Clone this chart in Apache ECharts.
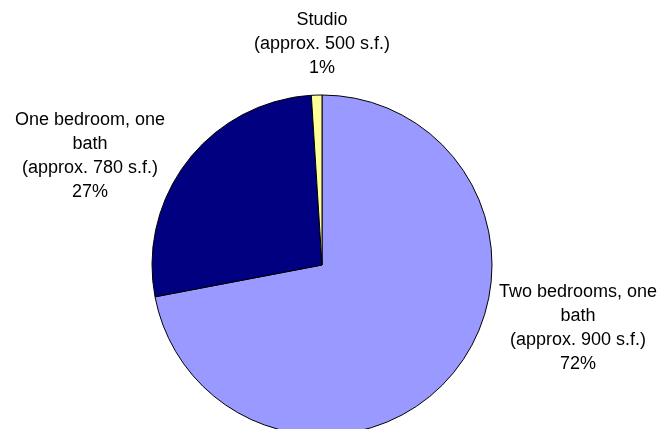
<!DOCTYPE html>
<html>
<head>
<meta charset="utf-8">
<script src="https://cdn.jsdelivr.net/npm/echarts@6/dist/echarts.min.js"></script>
<style>
  html, body { margin: 0; padding: 0; background: #ffffff; }
  #chart { width: 670px; height: 429px; }
</style>
</head>
<body>
<div id="chart"></div>
<script>
// Unit mix by apartment type (share of units, %)
const unitTypes = [
  'Two bedrooms, one\nbath\n(approx. 900 s.f.)',
  'One bedroom, one\nbath\n(approx. 780 s.f.)',
  'Studio\n(approx. 500 s.f.)'
];
const unitShares = [72, 27, 1];
const sliceColors = ['#9999FF', '#000080', '#FFFF99'];

// Pie geometry (pixels)
const pieCenter = [322, 265];
const pieRadius = 170;

// Label block centres, relative to the pie centre
const labelOffsets = [
  [256, 63],   // two bedrooms
  [-232, -109], // one bedroom
  [0, -221]    // studio
];

const chart = echarts.init(document.getElementById('chart'), null, { renderer: 'canvas' });

chart.setOption({
  animation: false,
  backgroundColor: '#ffffff',
  series: [{
    type: 'pie',
    center: pieCenter,
    radius: pieRadius,
    startAngle: 90,
    clockwise: true,
    avoidLabelOverlap: false,
    data: unitTypes.map((name, i) => ({
      name: name,
      value: unitShares[i],
      itemStyle: { color: sliceColors[i] }
    })),
    itemStyle: { borderColor: '#000000', borderWidth: 1 },
    emphasis: { disabled: true },
    label: {
      show: true,
      position: 'outside',
      formatter: p => p.name + '\n' + p.value + '%',
      fontFamily: '"Liberation Sans", Arial, sans-serif',
      fontSize: 18,
      lineHeight: 24,
      color: '#000000',
      align: 'center'
    },
    labelLine: { show: false },
    labelLayout: params => {
      const off = labelOffsets[params.dataIndex];
      return {
        x: pieCenter[0] + off[0],
        y: pieCenter[1] + off[1],
        align: 'center',
        verticalAlign: 'middle',
        hideOverlap: false
      };
    }
  }]
});
</script>
</body>
</html>
